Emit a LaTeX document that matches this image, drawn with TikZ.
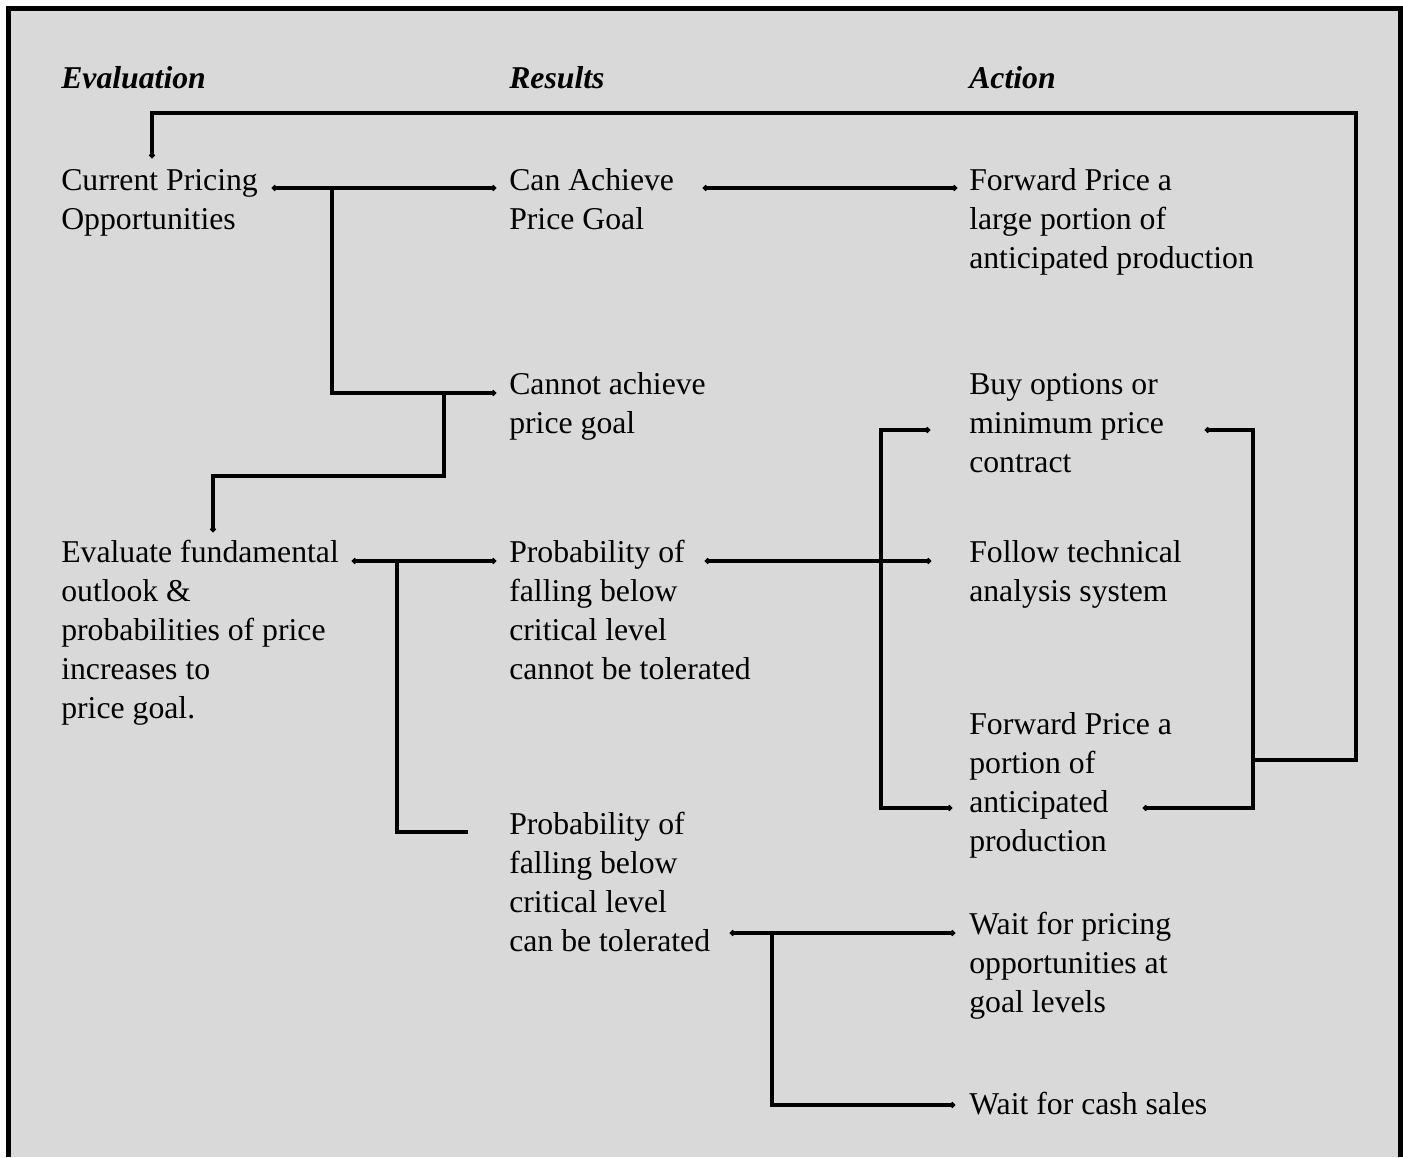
\documentclass[tikz,border=0pt]{standalone}
\usepackage{fontspec}
\setmainfont{Liberation Serif}
\usetikzlibrary{arrows.meta}
\begin{document}
\begin{tikzpicture}[x=0.75pt,y=-0.75pt,
  txt/.style={anchor=base west, inner sep=0pt, align=left, font=\fontsize{23.8}{29.25}\selectfont},
  head/.style={anchor=base west, inner sep=0pt, font=\fontsize{23.8}{29.25}\selectfont\bfseries\itshape},
  conn/.style={line width=2.4pt, line join=miter, line cap=butt},
  tipend/.style={conn, -{Circle[length=4pt]}},
  tipboth/.style={conn, {Circle[length=4pt]}-{Circle[length=4pt]}}]
\useasboundingbox (0,0) rectangle (1403,1157);
\fill[white] (0,0) rectangle (1403,1157);
\fill[fill={rgb,255:red,217;green,217;blue,217}] (8.5,8.5) rectangle (1400.5,1157);
\draw[line width=3.75pt] (8.5,1157) -- (8.5,8.5) -- (1400.5,8.5) -- (1400.5,1157);

% headers
\node[head] (h1) at (61,88) {Evaluation};
\node[head] (h2) at (509,88) {Results};
\node[head] (h3) at (969,88) {Action};

% column 1 (anchor = baseline of last line)
\node[txt] (cpo) at (61,229) {Current Pricing\\Opportunities};
\node[txt] (efo) at (61,718) {Evaluate fundamental\\outlook \&\\probabilities of price\\increases to\\price goal.};

% column 2
\node[txt] (cag) at (509,229) {Can Achieve\\Price Goal};
\node[txt] (cna) at (509,433) {Cannot achieve\\price goal};
\node[txt] (pnt) at (509,679) {Probability of\\falling below\\critical level\\cannot be tolerated};
\node[txt] (pct) at (509,951) {Probability of\\falling below\\critical level\\can be tolerated};

% column 3
\node[txt] (fpl) at (969,268) {Forward Price a\\large portion of\\anticipated production};
\node[txt] (bom) at (969,472) {Buy options or\\minimum price\\contract};
\node[txt] (fta) at (969,601) {Follow technical\\analysis system};
\node[txt] (fpp) at (969,851) {Forward Price a\\portion of\\anticipated\\production};
\node[txt] (wpo) at (969,1012) {Wait for pricing\\opportunities at\\goal levels};
\node[txt] (wcs) at (969,1114) {Wait for cash sales};

% connector points
\coordinate (cpoR) at (272,188);
\coordinate (cagL) at (496,188);
\coordinate (j1) at (332,188);
\coordinate (j1b) at (332,393);
\coordinate (cnaL) at (496,393);
\coordinate (j2) at (444,393);
\coordinate (j2b) at (444,476);
\coordinate (j2c) at (213,476);
\coordinate (efoT) at (213,532);
\coordinate (cagR) at (703,188);
\coordinate (fplL) at (957,188);
\coordinate (efoR) at (352,561);
\coordinate (pntL) at (496,561);
\coordinate (j3) at (397,561);
\coordinate (j3b) at (397,832);
\coordinate (pctL) at (468,832);
\coordinate (pntR) at (705,561);
\coordinate (ftaL) at (931,561);
\coordinate (bomL) at (930,430);
\coordinate (j4) at (881,430);
\coordinate (j4b) at (881,808);
\coordinate (fppL) at (952,808);
\coordinate (bomR) at (1205,430);
\coordinate (k1) at (1253,430);
\coordinate (k2) at (1253,808);
\coordinate (fppR) at (1143,808);
\coordinate (k3) at (1253,760);
\coordinate (k4) at (1356,760);
\coordinate (k5) at (1356,113);
\coordinate (k6) at (152,113);
\coordinate (cpoT) at (152,158);
\coordinate (pctR) at (730,933);
\coordinate (wpoL) at (955,933);
\coordinate (j5) at (772,933);
\coordinate (j5b) at (772,1105);
\coordinate (wcsL) at (955,1105);

% connectors
\draw[tipboth] (cpoR) -- (cagL);
\draw[tipend] (j1) -- (j1b) -- (cnaL);
\draw[tipend] (j2) -- (j2b) -- (j2c) -- (efoT);
\draw[tipboth] (cagR) -- (fplL);
\draw[tipboth] (efoR) -- (pntL);
\draw[conn] (j3) -- (j3b) -- (pctL);
\draw[tipboth] (pntR) -- (ftaL);
\draw[tipboth] (bomL) -- (j4) -- (j4b) -- (fppL);
\draw[tipboth] (bomR) -- (k1) -- (k2) -- (fppR);
\draw[tipend] (k3) -- (k4) -- (k5) -- (k6) -- (cpoT);
\draw[tipboth] (pctR) -- (wpoL);
\draw[tipend] (j5) -- (j5b) -- (wcsL);
\end{tikzpicture}
\end{document}
